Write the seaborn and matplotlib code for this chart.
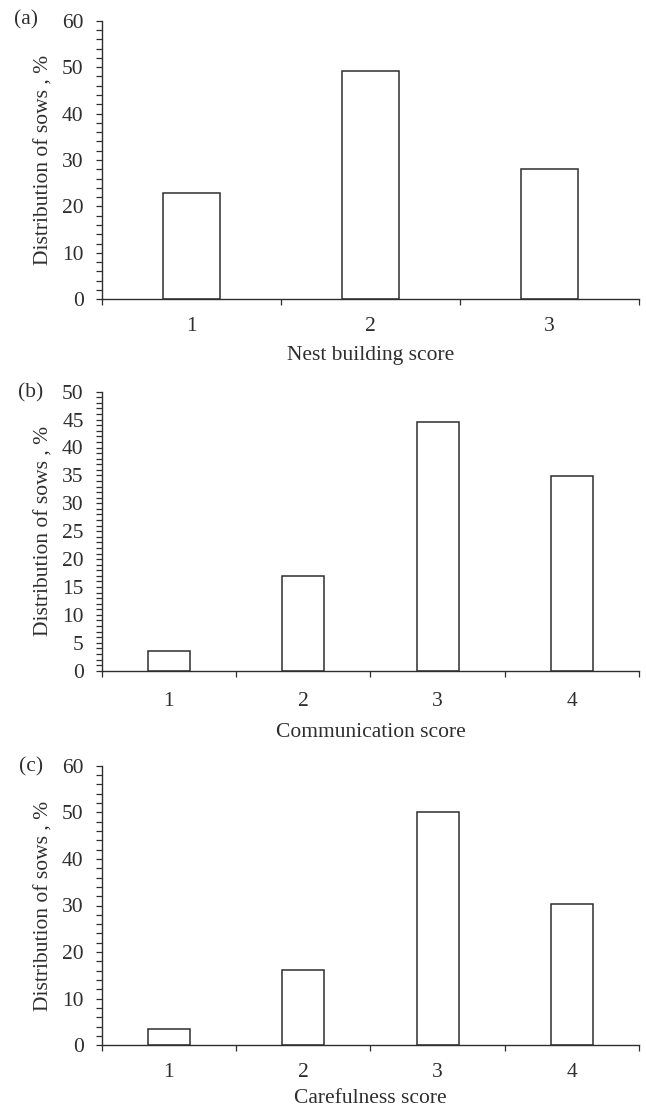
import numpy as np
import pandas as pd
import matplotlib
matplotlib.use("Agg")
import matplotlib.pyplot as plt
from matplotlib.ticker import MultipleLocator
import seaborn as sns

# Data
nest_scores = ["1", "2", "3"]
nest_values = [22.8, 49.2, 28.0]
comm_scores = ["1", "2", "3", "4"]
comm_values = [3.5, 17.0, 44.6, 34.9]
care_scores = ["1", "2", "3", "4"]
care_values = [3.5, 16.2, 50.1, 30.3]

panel_labels = ["(a)", "(b)", "(c)"]
xlabels = ["Nest building score", "Communication score", "Carefulness score"]
ylabel = "Distribution of sows , %"

sns.set_theme(style="ticks")
plt.rcParams["font.family"] = ["Liberation Serif", "DejaVu Serif"]

W, H = 646, 1112
fig = plt.figure(figsize=(W / 100, H / 100), dpi=100)

ink = "#2e2e2e"
fs = 15.5

panels = [
    (nest_scores, nest_values, 60, 10, 2, (20.7, 299.3), (26, 20), 13, 7),
    (comm_scores, comm_values, 50, 5, 1, (391.7, 670.7), (31, 393), 15, 9),
    (care_scores, care_values, 60, 10, 2, (765.7, 1045.3), (31, 767), 13, 5),
]

left_px, right_px = 101.7, 639.3
for i, (cats, vals, ymax, major, minor, (top_px, bot_px), (lx, ly), xpad, lpad) in enumerate(panels):
    ax = fig.add_axes([left_px / W, 1 - bot_px / H, (right_px - left_px) / W, (bot_px - top_px) / H])
    df = pd.DataFrame({"score": cats, "value": vals})
    sns.barplot(data=df, x="score", y="value", ax=ax, color="white", saturation=1,
                edgecolor=ink, linewidth=1.1, width=0.315)
    n = len(cats)
    ax.set_xlim(-0.5, n - 0.5)
    ax.set_ylim(0, ymax)
    ax.yaxis.set_major_locator(MultipleLocator(major))
    ax.yaxis.set_minor_locator(MultipleLocator(minor))
    ax.set_xticks(np.arange(n + 1) - 0.5)
    ax.set_xticklabels([""] * (n + 1))
    ax.set_xticks(np.arange(n), minor=True)
    ax.set_xticklabels(cats, minor=True)
    ax.tick_params(axis="x", which="major", direction="out", length=4, width=0.9, color=ink)
    ax.tick_params(axis="x", which="minor", length=0, pad=xpad, labelsize=fs, labelcolor=ink)
    ax.tick_params(axis="y", which="both", direction="out", length=4, width=0.9, color=ink,
                   labelsize=fs, labelcolor=ink, pad=9)
    for s in ["top", "right"]:
        ax.spines[s].set_visible(False)
    for s in ["left", "bottom"]:
        ax.spines[s].set_color(ink)
        ax.spines[s].set_linewidth(1.0)
    ax.set_xlabel(xlabels[i], fontsize=fs, color=ink, labelpad=lpad)
    ax.set_ylabel(ylabel, fontsize=fs, color=ink, labelpad=6)
    ax.set_facecolor("white")
    fig.text(lx / W, 1 - ly / H, panel_labels[i], fontsize=fs, color=ink, ha="center", va="center")

fig.savefig("out.png", dpi=100, facecolor="white")
